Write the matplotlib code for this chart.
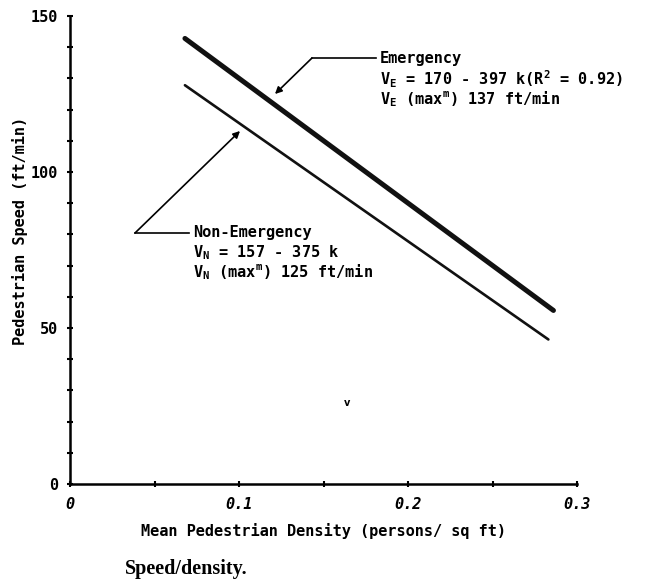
import matplotlib
matplotlib.use("Agg")
import matplotlib.pyplot as plt
from matplotlib.ticker import MultipleLocator, FixedLocator

# endpoints of the two fitted lines
density = [0.068, 0.286]
speed_emergency = [142.8, 55.6]
density_normal = [0.068, 0.283]
speed_normal = [127.8, 46.3]

x_major = [0, 0.1, 0.2, 0.3]
x_major_labels = ["0", "0.1", "0.2", "0.3"]
y_major = [0, 50, 100, 150]

MONO = "DejaVu Sans Mono"
plt.rcParams["mathtext.fontset"] = "custom"
plt.rcParams["mathtext.rm"] = "DejaVu Sans Mono:bold"
plt.rcParams["mathtext.default"] = "rm"

fig = plt.figure(figsize=(6.51, 5.83), dpi=100)
ax = fig.add_axes([0.1075, 0.170, 0.779, 0.8026])

ax.plot(density, speed_emergency, color="#111111", lw=3.6, solid_capstyle="round")
ax.plot(density_normal, speed_normal, color="#111111", lw=1.9, solid_capstyle="round")

ax.set_xlim(0, 0.3)
ax.set_ylim(0, 150)
for side in ("top", "right"):
    ax.spines[side].set_visible(False)
for side in ("left", "bottom"):
    ax.spines[side].set_linewidth(1.8)

ax.xaxis.set_major_locator(FixedLocator(x_major))
ax.xaxis.set_minor_locator(MultipleLocator(0.05))
ax.yaxis.set_major_locator(FixedLocator(y_major))
ax.yaxis.set_minor_locator(MultipleLocator(10))
ax.tick_params(which="both", direction="inout", length=5, width=1.5, color="black")
ax.set_xticklabels(x_major_labels, fontsize=11, fontweight="bold", style="italic",
                   family=MONO)
ax.set_yticklabels([str(v) for v in y_major], fontsize=11, fontweight="bold",
                   family=MONO)
ax.tick_params(axis="x", pad=7)
ax.tick_params(axis="y", pad=6)

ax.set_xlabel("Mean Pedestrian Density (persons/ sq ft)", fontsize=11,
              fontweight="bold", family=MONO, labelpad=8)
ax.set_ylabel("Pedestrian Speed (ft/min)", fontsize=11, fontweight="bold",
              family=MONO)
ax.yaxis.set_label_coords(-0.082, 0.54)

txt = dict(fontsize=11, fontweight="bold", family=MONO, ha="left", va="center",
           transform=fig.transFigure)
W, H = 651, 583


def fx(px):
    return px / W


def fy(py):
    return 1 - py / H


# Emergency annotation
fig.text(fx(380), fy(58), "Emergency", **txt)
fig.text(fx(380), fy(79), r"V$_E$ = 170 - 397 k(R$^2$ = 0.92)", **txt)
fig.text(fx(380), fy(99), r"V$_E$ (max$^m$) 137 ft/min", **txt)
fig.add_artist(plt.Line2D([fx(376), fx(312)], [fy(58), fy(58)],
                          color="black", lw=1.2, transform=fig.transFigure))
ax.annotate("", xy=(fx(275), fy(94)), xytext=(fx(312), fy(58)),
            xycoords="figure fraction", textcoords="figure fraction",
            arrowprops=dict(arrowstyle="-|>", color="black", lw=1.2,
                            mutation_scale=10, shrinkA=0, shrinkB=0))

# Non-emergency annotation
fig.text(fx(193), fy(233), "Non-Emergency", **txt)
fig.text(fx(193), fy(253), r"V$_N$ = 157 - 375 k", **txt)
fig.text(fx(193), fy(272), r"V$_N$ (max$^m$) 125 ft/min", **txt)
fig.add_artist(plt.Line2D([fx(189), fx(135)], [fy(233), fy(233)],
                          color="black", lw=1.2, transform=fig.transFigure))
ax.annotate("", xy=(fx(240), fy(131)), xytext=(fx(135), fy(233)),
            xycoords="figure fraction", textcoords="figure fraction",
            arrowprops=dict(arrowstyle="-|>", color="black", lw=1.2,
                            mutation_scale=10, shrinkA=0, shrinkB=0))

# stray mark from the scan
fig.text(fx(347), fy(403), "v", fontsize=7, fontweight="bold",
         ha="center", va="center")

fig.text(fx(125), fy(569), "Speed/density.", fontsize=14.5, fontweight="bold",
         family="Liberation Serif", ha="left", va="center")

fig.savefig("out.png", dpi=100)
